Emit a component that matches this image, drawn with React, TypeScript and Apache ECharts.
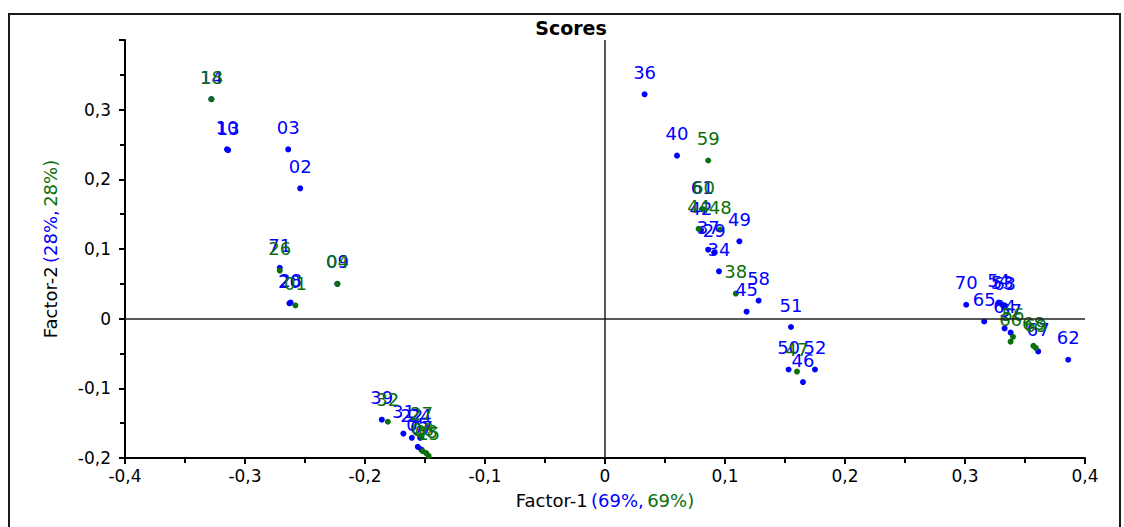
import React, { useEffect, useRef } from "react";
import * as echarts from "echarts";

// Calibration samples (blue): name, Factor-1 score, Factor-2 score
const blueLabels = ["14", "10", "13", "03", "02", "71", "09", "20", "28", "39", "31", "22", "24", "05", "07",
  "36", "40", "61", "42", "37", "29", "49", "34", "58", "45", "51", "50", "52", "46",
  "70", "54", "53", "63", "65", "64", "57", "67", "62"];
const blueF1 = [-0.328, -0.315, -0.314, -0.264, -0.254, -0.271, -0.223, -0.263, -0.262, -0.186, -0.168, -0.161, -0.154, -0.156, -0.153,
  0.033, 0.06, 0.081, 0.08, 0.086, 0.091, 0.112, 0.095, 0.128, 0.118, 0.155, 0.153, 0.175, 0.165,
  0.301, 0.328, 0.331, 0.333, 0.316, 0.333, 0.338, 0.361, 0.386];
const blueF2 = [0.315, 0.243, 0.242, 0.243, 0.187, 0.073, 0.05, 0.022, 0.023, -0.145, -0.165, -0.171, -0.171, -0.184, -0.188,
  0.322, 0.234, 0.157, 0.127, 0.099, 0.095, 0.111, 0.068, 0.026, 0.01, -0.012, -0.073, -0.073, -0.091,
  0.02, 0.023, 0.02, 0.019, -0.004, -0.014, -0.02, -0.047, -0.059];

// Validation samples (green)
const greenLabels = ["18", "26", "04", "01", "32", "27", "06", "08", "15",
  "59", "60", "44", "48", "38", "47", "56", "66", "68", "69"];
const greenF1 = [-0.328, -0.271, -0.223, -0.258, -0.181, -0.153, -0.152, -0.149, -0.147,
  0.086, 0.082, 0.078, 0.096, 0.109, 0.16, 0.34, 0.338, 0.357, 0.359];
const greenF2 = [0.315, 0.069, 0.05, 0.019, -0.148, -0.168, -0.19, -0.193, -0.197,
  0.227, 0.157, 0.129, 0.128, 0.036, -0.076, -0.026, -0.033, -0.039, -0.042];

const BLUE = "#0000ff";
const GREEN = "#0b6f0b";
const FONT = "DejaVu Sans";

const fmt = (v: number, hideTop?: boolean) => {
  const r = Number(v.toFixed(2));
  if (hideTop && r >= 0.4) return "";
  return String(r).replace(".", ",");
};

const toPoints = (names: string[], xs: number[], ys: number[]) =>
  names.map((n, i) => ({ name: n, value: [xs[i], ys[i]] }));

export default function App() {
  const ref = useRef<HTMLDivElement>(null);

  useEffect(() => {
    if (!ref.current) return;
    const chart = echarts.init(ref.current, null, { renderer: "svg" });

    const pointLabel = (color: string) => ({
      show: true,
      position: "top" as const,
      distance: 10,
      formatter: "{b}",
      color,
      opacity: 1,
      fontFamily: FONT,
      fontSize: 18,
    });

    const nameRich = {
      a: { color: "#000", fontFamily: FONT, fontSize: 18 },
      b: { color: BLUE, fontFamily: FONT, fontSize: 18 },
      c: { color: GREEN, fontFamily: FONT, fontSize: 18 },
    };

    chart.setOption({
      animation: false,
      backgroundColor: "#ffffff",
      grid: { left: 125, right: 39, top: 40, bottom: 69, containLabel: false },
      graphic: [
        {
          type: "rect",
          shape: { x: 9, y: 14, width: 1111, height: 540 },
          style: { fill: "none", stroke: "#1a1a1a", lineWidth: 2 },
          silent: true,
        },
        {
          type: "text",
          x: 571,
          y: 28,
          style: {
            text: "Scores",
            textAlign: "center",
            textVerticalAlign: "middle",
            font: `bold 19px "${FONT}"`,
            fill: "#000",
          },
        },
      ],
      xAxis: {
        type: "value",
        min: -0.4,
        max: 0.4,
        interval: 0.1,
        name: "{a|Factor-1} {b|(69%,} {c|69%)}",
        nameLocation: "middle",
        nameGap: 33,
        nameTextStyle: { rich: nameRich },
        axisLine: { onZero: false, lineStyle: { color: "#000", width: 2 } },
        axisTick: { show: true, length: 6, lineStyle: { color: "#000", width: 2 } },
        minorTick: { show: true, splitNumber: 2, length: 5, lineStyle: { color: "#000", width: 2 } },
        splitLine: { show: false },
        axisLabel: {
          color: "#000",
          fontFamily: FONT,
          fontSize: 17,
          margin: 9,
          formatter: (v: number) => fmt(v),
        },
      },
      yAxis: {
        type: "value",
        min: -0.2,
        max: 0.4,
        interval: 0.1,
        name: "{a|Factor-2} {b|(28%,} {c|28%)}",
        nameLocation: "middle",
        nameGap: 66,
        nameTextStyle: { rich: nameRich },
        axisLine: { onZero: false, lineStyle: { color: "#000", width: 2 } },
        axisTick: { show: true, length: 6, lineStyle: { color: "#000", width: 2 } },
        minorTick: { show: true, splitNumber: 2, length: 5, lineStyle: { color: "#000", width: 2 } },
        splitLine: { show: false },
        axisLabel: {
          color: "#000",
          fontFamily: FONT,
          fontSize: 17,
          margin: 14,
          formatter: (v: number) => fmt(v, true),
        },
      },
      series: [
        {
          type: "scatter",
          name: "blue",
          symbolSize: 6,
          itemStyle: { color: BLUE, opacity: 1 },
          label: pointLabel(BLUE),
          data: toPoints(blueLabels, blueF1, blueF2),
          markLine: {
            silent: true,
            symbol: "none",
            label: { show: false },
            lineStyle: { color: "#222", width: 1.5, type: "solid", opacity: 1 },
            data: [{ xAxis: 0 }, { yAxis: 0 }],
          },
        },
        {
          type: "scatter",
          name: "green",
          symbolSize: 6,
          itemStyle: { color: GREEN, opacity: 1 },
          label: pointLabel(GREEN),
          data: toPoints(greenLabels, greenF1, greenF2),
        },
      ],
    });

    return () => chart.dispose();
  }, []);

  return (
    <div
      ref={ref}
      style={{ position: "fixed", left: 0, top: 0, width: 1124, height: 527, background: "#fff" }}
    />
  );
}
